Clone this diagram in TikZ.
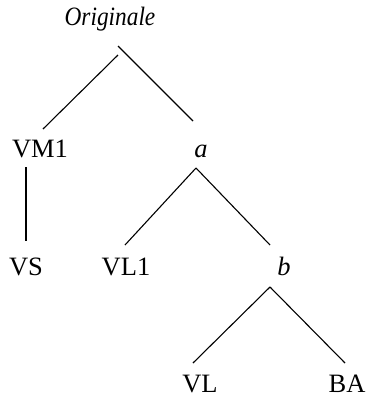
\documentclass[tikz,border=0pt]{standalone}
\usepackage{fontspec}
\setmainfont{Liberation Serif}
\usepackage{tikz}

\begin{document}
\begin{tikzpicture}[x=1pt,y=-1pt]
                    \tikzset{every node/.style={anchor=base, inner sep=0pt, font=\fontsize{26.5}{30}\selectfont}}
                    \tikzset{branch/.style={line width=1.1pt}}
                    \useasboundingbox (0,0) rectangle (368,397);
                    % labels
                    \node[xscale=0.88] (orig) at (110,25) {\textit{Originale}};
                    \node (vm1) at (40,157) {VM1};
                    \node (a) at (201,157) {\textit{a}};
                    \node (vs) at (26,275) {VS};
                    \node (vl1) at (126,275) {VL1};
                    \node (b) at (284,275) {\textit{b}};
                    \node (vl) at (200,392) {VL};
                    \node (ba) at (347,392) {BA};
                    % branches
                    \draw[branch] ([shift={(8,30)}]orig.base) -- ([shift={(3,-28)}]vm1.base);
                    \draw[branch] ([shift={(8,21)}]orig.base) -- ([shift={(-8,-36)}]a.base);
                    \draw[branch] ([shift={(-14,10)}]vm1.base) -- ([shift={(0,-34)}]vs.base);
                    \draw[branch] ([shift={(-5,11)}]a.base) -- ([shift={(-1,-30)}]vl1.base);
                    \draw[branch] ([shift={(-5,11)}]a.base) -- ([shift={(-14,-30)}]b.base);
                    \draw[branch] ([shift={(-14,12)}]b.base) -- ([shift={(-7,-29)}]vl.base);
                    \draw[branch] ([shift={(-14,12)}]b.base) -- ([shift={(-2,-29)}]ba.base);
\end{tikzpicture}
\end{document}
